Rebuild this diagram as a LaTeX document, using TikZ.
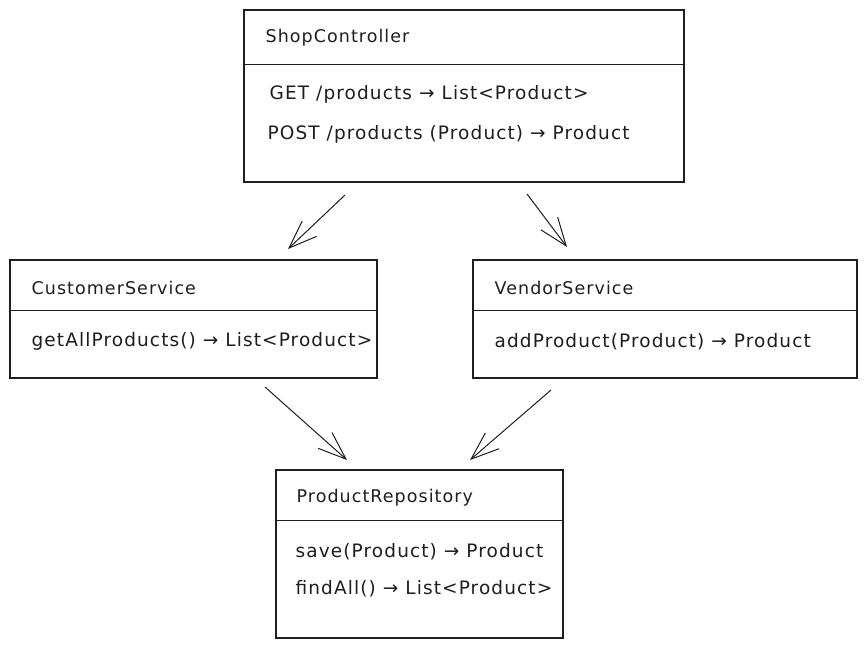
\documentclass[tikz,border=0pt]{standalone}
\usepackage{fontspec}
\setmainfont{DejaVu Sans}
\newfontfamily\sketchfont{DejaVu Sans}[LetterSpace=6]
\usetikzlibrary{arrows.meta, positioning, calc}
\definecolor{inkline}{RGB}{30, 30, 30}

\begin{document}
\begin{tikzpicture}[x=1pt, y=-1pt,
            classbox/.style={draw=inkline, line width=1.1pt, minimum width=#1, inner sep=0pt},
            boxtext/.style={anchor=west, inner sep=0pt, font=\sketchfont\fontsize{18.5}{22}\selectfont, text=inkline},
            boxtitle/.style={boxtext, font=\sketchfont\fontsize{17.5}{21}\selectfont},
            arrow/.style={-{Straight Barb[length=28pt, width=21pt, line width=1pt]}, line width=1pt, inkline}
        ]
            \useasboundingbox (0,0) rectangle (866,648);

            % class boxes
            \node[classbox=440pt, minimum height=172pt] (shop) at (464,96) {};
            \node[classbox=367pt, minimum height=118pt] (cust) at (193.5,319) {};
            \node[classbox=384pt, minimum height=118pt] (vend) at (665,319) {};
            \node[classbox=287pt, minimum height=168pt] (repo) at (419.5,554) {};

            % dividers
            \draw[inkline, line width=1.1pt] ([yshift=-55pt]shop.north west) -- ([yshift=-55pt]shop.north east);
            \draw[inkline, line width=1.1pt] ([yshift=-51pt]cust.north west) -- ([yshift=-51pt]cust.north east);
            \draw[inkline, line width=1.1pt] ([yshift=-51pt]vend.north west) -- ([yshift=-51pt]vend.north east);
            \draw[inkline, line width=1.1pt] ([yshift=-51pt]repo.north west) -- ([yshift=-51pt]repo.north east);

            % texts
            \node[boxtitle] (shop-name) at ([xshift=22pt, yshift=-28pt]shop.north west) {ShopController};
            \node[boxtext] (shop-get) at ([xshift=26pt, yshift=-85pt]shop.north west) {GET /products → List<Product>};
            \node[boxtext] (shop-post) at ([xshift=24pt, yshift=-125pt]shop.north west) {POST /products (Product) → Product};

            \node[boxtitle] (cust-name) at ([xshift=22pt, yshift=-29pt]cust.north west) {CustomerService};
            \node[boxtext] (cust-get) at ([xshift=22pt, yshift=-82pt]cust.north west) {getAllProducts() → List<Product>};

            \node[boxtitle] (vend-name) at ([xshift=22pt, yshift=-29pt]vend.north west) {VendorService};
            \node[boxtext] (vend-add) at ([xshift=22pt, yshift=-82pt]vend.north west) {addProduct(Product) → Product};

            \node[boxtitle] (repo-name) at ([xshift=21pt, yshift=-28pt]repo.north west) {ProductRepository};
            \node[boxtext] (repo-save) at ([xshift=20pt, yshift=-82pt]repo.north west) {save(Product) → Product};
            \node[boxtext] (repo-find) at ([xshift=20pt, yshift=-119pt]repo.north west) {findAll() → List<Product>};

            % arrow ends
            \coordinate (shop-out-l) at (345,195);
            \coordinate (cust-in) at (288,249);
            \coordinate (shop-out-r) at (527,194);
            \coordinate (vend-in) at (567,247);
            \coordinate (cust-out) at (265,387);
            \coordinate (repo-in-l) at (347,460);
            \coordinate (vend-out) at (551,390);
            \coordinate (repo-in-r) at (470,460);

            \draw[arrow] (shop-out-l) -- (cust-in);
            \draw[arrow] (shop-out-r) -- (vend-in);
            \draw[arrow] (cust-out) -- (repo-in-l);
            \draw[arrow] (vend-out) -- (repo-in-r);
        \end{tikzpicture}
\end{document}
